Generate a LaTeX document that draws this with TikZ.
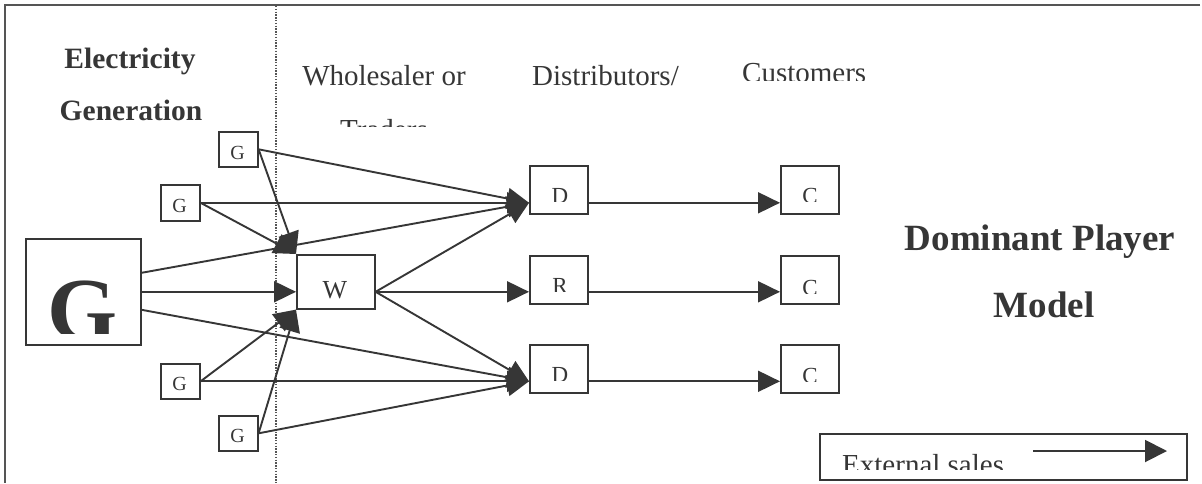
\documentclass[tikz,border=0pt]{standalone}
\usepackage{fontspec}
\setmainfont{Liberation Serif}
\usetikzlibrary{arrows.meta,calc}
\definecolor{ink}{HTML}{363636}
\definecolor{frame}{HTML}{555555}
\begin{document}
\begin{tikzpicture}[x=1pt,y=-1pt,
  box/.style={draw=ink,line width=1.6pt,inner sep=0pt,anchor=north west,fill=white},
  flow/.style={draw=ink,line width=1.9pt,-{Triangle[length=22pt,width=21pt]}},
  heading/.style={font=\fontsize{29}{35}\selectfont,text=ink,inner sep=0pt,anchor=base},
  boldhead/.style={font=\fontsize{29.5}{35}\selectfont\bfseries,text=ink,inner sep=0pt,anchor=base},
  bighead/.style={font=\fontsize{37}{44}\selectfont\bfseries,text=ink,inner sep=0pt,anchor=base},
  letter/.style={font=\fontsize{23}{27}\selectfont,text=ink,inner sep=0pt,anchor=base},
  smallletter/.style={letter,font=\fontsize{20}{24}\selectfont},
  divider/.style={draw=frame,line width=1.5pt,dash pattern=on 1.4pt off 1.4pt}
]
% canvas
\fill[white] (0,0) rectangle (1202,483);
\useasboundingbox (0,0) rectangle (1202,483);

% outer frame (top and left edges) and the dotted divider
\coordinate (frTR) at (1200,5);
\coordinate (frTL) at (5,5);
\coordinate (frBL) at (5,483);
\draw[frame,line width=2pt] (frTR) -- (frTL) -- (frBL);
\coordinate (divTop) at (276,6);
\coordinate (divBot) at (276,483);
\draw[divider] (divTop) -- (divBot);

% column headings
\node[boldhead] (hElec) at (130,68) {Electricity};
\node[boldhead] (hGen) at (131,120) {Generation};
\node[heading] (hWhole) at (384,85) {Wholesaler or};
\begin{scope}
  \clip (290,100) rectangle (480,126);
  \node[heading] (hTrad) at (384,139) {Traders};
\end{scope}
\node[heading,anchor=base west] (hDist) at (532,85) {Distributors/};
\begin{scope}
  \clip (730,40) rectangle (880,80);
  \node[heading,anchor=base west] (hCust) at (742,82) {Customers};
\end{scope}

% model title
\node[bighead] (tDom) at (1040,250) {Dominant Player};
\node[bighead] (tMod) at (1044,317) {Model};

% boxes
\node[box,minimum width=39pt,minimum height=35pt] (G1) at (218,131) {};
\node[box,minimum width=39pt,minimum height=36pt] (G2) at (160,184) {};
\node[box,minimum width=115pt,minimum height=106pt] (BigG) at (25,238) {};
\node[box,minimum width=78pt,minimum height=54pt] (W) at (296,254) {};
\node[box,minimum width=39pt,minimum height=35pt] (G3) at (160,363) {};
\node[box,minimum width=39pt,minimum height=35pt] (G4) at (218,415) {};
\node[box,minimum width=58pt,minimum height=48pt] (D1) at (529,165) {};
\node[box,minimum width=58pt,minimum height=48pt] (R) at (529,255) {};
\node[box,minimum width=58pt,minimum height=48pt] (D3) at (529,344) {};
\node[box,minimum width=58pt,minimum height=48pt] (C1) at (780,165) {};
\node[box,minimum width=58pt,minimum height=48pt] (C2) at (780,255) {};
\node[box,minimum width=58pt,minimum height=48pt] (C3) at (780,344) {};

% box letters
\node[smallletter] (lG1) at (237.5,159) {G};
\node[smallletter] (lG2) at (179.5,212) {G};
\node[smallletter] (lG3) at (179.5,390) {G};
\node[smallletter] (lG4) at (237.5,442) {G};
\node[letter,font=\fontsize{26}{30}\selectfont] (lW) at (335,298) {W};
\begin{scope}
  \clip (26,239) rectangle (139,333);
  \node[letter,font=\fontsize{90}{100}\selectfont\bfseries] (lBigG) at (83,340) {G};
\end{scope}
\begin{scope}
  \clip (530,166) rectangle (586,201);
  \node[letter] (lD1) at (560,203) {D};
\end{scope}
\begin{scope}
  \clip (530,256) rectangle (586,291);
  \node[letter] (lR) at (560,293) {R};
\end{scope}
\begin{scope}
  \clip (530,345) rectangle (586,380);
  \node[letter] (lD3) at (560,382) {D};
\end{scope}
\begin{scope}
  \clip (781,166) rectangle (837,201);
  \node[letter] (lC1) at (810,203) {C};
\end{scope}
\begin{scope}
  \clip (781,256) rectangle (837,293);
  \node[letter] (lC2) at (810,295) {C};
\end{scope}
\begin{scope}
  \clip (781,345) rectangle (837,381);
  \node[letter] (lC3) at (810,383) {C};
\end{scope}

% generators to wholesaler and distributors
\draw[flow] (G1.east) -- (D1.west |- G2.east);
\draw[flow] (G1.east) -- (W.north west);
\draw[flow] (G2.east) -- (D1.west |- G2.east);
\draw[flow] (G2.east) -- (W.north west);
\draw[flow] ($(BigG.east)+(0,-19)$) -- (D1.west |- G2.east);
\draw[flow] (BigG.east) -- (W.west |- BigG.east);
\draw[flow] ($(BigG.east)+(0,18)$) -- (D3.west |- G3.east);
\draw[flow] (G3.east) -- (W.south west);
\draw[flow] (G3.east) -- (D3.west |- G3.east);
\draw[flow] (G4.east) -- (W.south west);
\draw[flow] (G4.east) -- (D3.west |- G3.east);

% wholesaler to distributors / retailer
\draw[flow] (W.east |- BigG.east) -- (D1.west |- G2.east);
\draw[flow] (W.east |- BigG.east) -- (R.west |- BigG.east);
\draw[flow] (W.east |- BigG.east) -- (D3.west |- G3.east);

% distributors / retailer to customers
\draw[flow] (D1.east |- G2.east) -- (C1.west |- G2.east);
\draw[flow] (R.east |- BigG.east) -- (C2.west |- BigG.east);
\draw[flow] (D3.east |- G3.east) -- (C3.west |- G3.east);

% legend
\node[box,minimum width=367pt,minimum height=46pt] (legend) at (819,433) {};
\begin{scope}
  \clip (820,434) rectangle (1185,469);
  \node[heading,anchor=base west] (legText) at (842,474) {External sales};
\end{scope}
\coordinate (legA) at (1033,451);
\coordinate (legB) at (1167,451);
\draw[flow,-{Triangle[length=22pt,width=22pt]}] (legA) -- (legB);
\end{tikzpicture}
\end{document}
